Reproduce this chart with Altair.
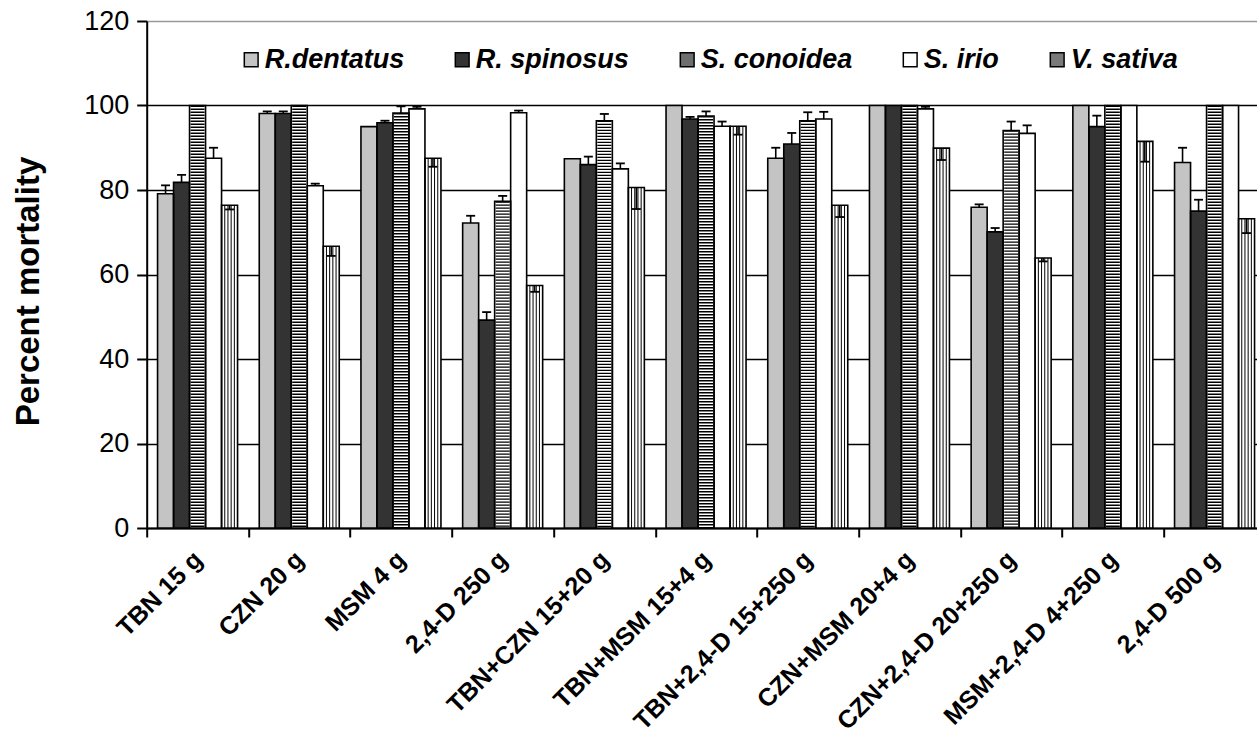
import altair as alt
import pandas as pd

# Treatments (herbicide and rate per feddan) and weed species
groups = ["TBN 15 g", "CZN 20 g", "MSM 4 g", "2,4-D 250 g", "TBN+CZN 15+20 g",
          "TBN+MSM 15+4 g", "TBN+2,4-D 15+250 g", "CZN+MSM 20+4 g",
          "CZN+2,4-D 20+250 g", "MSM+2,4-D 4+250 g", "2,4-D 500 g"]
species = ["R.dentatus", "R. spinosus", "S. conoidea", "S. irio", "V. sativa"]

# Percent mortality per species
r_dentatus = [79.1, 98.1, 95.0, 72.2, 87.4, 100, 87.5, 100, 75.9, 100, 86.5]
r_spinosus = [81.8, 98.1, 95.9, 49.2, 86.0, 96.8, 90.9, 100, 70.1, 95.0, 75.0]
s_conoidea = [100, 100, 98.2, 77.3, 96.4, 97.5, 96.4, 100, 94.1, 100, 100]
s_irio = [87.5, 81.0, 99.2, 98.3, 85.0, 95.1, 96.8, 99.2, 93.4, 100, 100]
v_sativa = [76.4, 66.7, 87.5, 57.4, 80.6, 95.1, 76.4, 89.9, 63.9, 91.5, 73.2]

# Standard errors
r_dentatus_se = [2.0, 0.5, 0, 1.7, 0, 0, 2.5, 0, 0.7, 0, 3.5]
r_spinosus_se = [1.8, 0.5, 0.5, 1.9, 1.9, 0.5, 2.6, 0, 0.9, 2.6, 2.7]
s_conoidea_se = [0, 0, 1.6, 1.3, 1.6, 1.1, 2.0, 0, 2.1, 0, 0]
s_irio_se = [2.5, 0.5, 0.5, 0.5, 1.3, 1.1, 1.7, 0.5, 1.9, 0, 0]
v_sativa_se = [1.0, 2.3, 2.0, 1.5, 5.1, 2.0, 2.8, 2.8, 0.8, 4.8, 3.4]

values = [r_dentatus, r_spinosus, s_conoidea, s_irio, v_sativa]
errors = [r_dentatus_se, r_spinosus_se, s_conoidea_se, s_irio_se, v_sativa_se]

rows = []
for sp, vals, errs in zip(species, values, errors):
    for g, v, e in zip(groups, vals, errs):
        rows.append({"group": g, "species": sp, "value": v, "se": e})
df = pd.DataFrame(rows)

FONT = "Liberation Sans"
STEP = 101.7           # width of one treatment group
PAD_OUTER = 0.678      # outer padding of the species sub-bands
SUB = STEP / (5 + 2 * PAD_OUTER)

x_scale = alt.Scale(domain=groups, range=[0, STEP * len(groups)],
                    paddingInner=0, paddingOuter=0)
off_scale = alt.Scale(domain=species, paddingInner=0, paddingOuter=PAD_OUTER)
y_scale = alt.Scale(domain=[0, 120], nice=False)

x_enc = alt.X("group:N", scale=x_scale, sort=groups, axis=alt.Axis(
    title=None, tickBand="extent", tickSize=9, tickWidth=2, tickColor="black",
    domainColor="black", domainWidth=2, labelAngle=-45, labelAlign="right",
    labelBaseline="middle", labelFont=FONT, labelFontSize=25,
    labelFontWeight="bold", labelColor="black", labelPadding=18,
    labelLimit=0, grid=False))
off_enc = alt.XOffset("species:N", scale=off_scale, sort=species)
y_enc = alt.Y("value:Q", scale=y_scale, axis=alt.Axis(
    title="Percent mortality", values=[0, 20, 40, 60, 80, 100, 120],
    tickSize=10, tickWidth=2, tickColor="black", domainColor="black",
    domainWidth=2, labelFont=FONT, labelFontSize=27, labelColor="black",
    labelPadding=8, grid=True, gridWidth=1.6,
    gridColor={"condition": {"test": "datum.value === 120", "value": "#999999"},
               "value": "black"},
    titleFont=FONT, titleFontSize=33, titleFontWeight="bold",
    titleColor="black", titleX=-108, titleY=270, titleBaseline="alphabetic",
    titleAlign="center", titleAngle=270))

base = alt.Chart(df)

# Legend swatches (markers themselves stay hidden)
legend_layer = base.mark_square(opacity=0).encode(
    x=x_enc, y=y_enc,
    color=alt.Color("species:N", sort=species, scale=alt.Scale(
        domain=species,
        range=["#c4c4c4", "#333333", "#6e6e6e", "#ffffff", "#7a7a7a"]),
        legend=alt.Legend(
            title=None, orient="none", legendX=91, legendY=25,
            direction="horizontal", columns=5, symbolType="square",
            symbolSize=190, symbolStrokeColor="black", symbolStrokeWidth=1.5,
            symbolOpacity=1, labelFont=FONT, labelFontSize=27,
            labelFontWeight="bold", labelFontStyle="italic",
            labelColor="black", labelOffset=0, columnPadding=44, padding=0,
            labelLimit=0)))

# Bar fills
bars_fill = base.mark_bar(strokeWidth=0, opacity=1).encode(
    x=x_enc, xOffset=off_enc, y=y_enc,
    fill=alt.Fill("species:N", sort=species, legend=None, scale=alt.Scale(
        domain=species,
        range=["#c4c4c4", "#333333", "#ffffff", "#ffffff", "#ffffff"])))

# Horizontal hatching for S. conoidea
h_stripes = base.transform_filter(alt.datum.species == "S. conoidea").mark_rule(
    color="black", strokeWidth=SUB - 2, strokeDash=[1.4, 1.6], opacity=1
).encode(x=x_enc, xOffset=off_enc, y=y_enc, y2=alt.datum(0))

# Vertical hatching for V. sativa
v_layers = []
for k in range(1, 5):
    pos = (PAD_OUTER * SUB + 4 * SUB + k * SUB / 5) / STEP
    v_layers.append(
        base.transform_filter(alt.datum.species == "V. sativa").mark_rule(
            color="black", strokeWidth=1, opacity=1
        ).encode(x=alt.X("group:N", scale=x_scale, sort=groups, bandPosition=pos),
                 y=y_enc, y2=alt.datum(0)))

# Bar outlines
bars_outline = base.mark_bar(fillOpacity=0, stroke="black", strokeWidth=1.6,
                             opacity=1).encode(x=x_enc, xOffset=off_enc, y=y_enc)

# Error bars: upward for most species, downward for V. sativa
err_base = base.transform_filter(alt.datum.se > 0).transform_calculate(
    tip="datum.species === 'V. sativa' ? datum.value - datum.se : datum.value + datum.se")
err_rule = err_base.mark_rule(color="black", strokeWidth=1.6, opacity=1).encode(
    x=x_enc, xOffset=off_enc, y=y_enc, y2="tip:Q")
err_cap = err_base.mark_tick(color="black", size=9, thickness=1.8, opacity=1).encode(
    x=x_enc, xOffset=off_enc, y=alt.Y("tip:Q", scale=y_scale))

chart = alt.layer(legend_layer, bars_fill, h_stripes, *v_layers, bars_outline,
                  err_rule, err_cap).properties(
    width=1257 - 146.7, height=507,
    autosize=alt.AutoSizeParams(type="none"),
    padding={"left": 146.7, "top": 21, "right": 0, "bottom": 222},
    background="white",
).configure_view(stroke=None)

chart.save("out.html", embed_options={"renderer": "svg", "actions": False})
